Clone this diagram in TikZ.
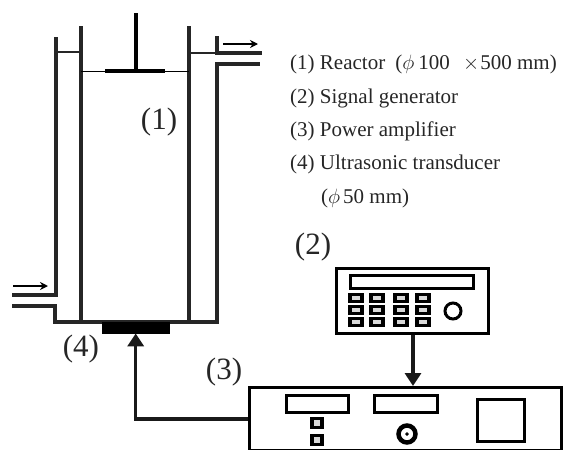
\documentclass[tikz,border=0pt]{standalone}
\usepackage{fontspec}
\setmainfont{Liberation Serif}
\usetikzlibrary{arrows.meta, positioning}

\begin{document}
\begin{tikzpicture}[
  x=1pt, y=-1pt,
  wall/.style = { line width=3.4pt, draw=black!85 },
  thinwall/.style = { line width=2pt, draw=black!85 },
  sig/.style = { line width=3.4pt, draw=black!90, -{Triangle[length=13pt, width=16pt]} },
  flow/.style = { line width=1.6pt, -{Stealth[length=8pt, width=8pt]} },
  box/.style = { draw=black, line width=2.6pt, inner sep=0pt, anchor=north west },
  key/.style = { draw=black, fill=black!15, line width=3.4pt, inner sep=0pt, minimum width=12pt, minimum height=7pt },
  tag/.style = { font=\fontsize{31}{31}\selectfont, inner sep=0pt, text=black!85 },
  legend/.style = { font=\fontsize{21}{21}\selectfont, inner sep=0pt, anchor=base west, text=black!85 }
]
\useasboundingbox (0,0) rectangle (563,450);

% reactor
\draw[wall] (56,37) -- (56,295) -- (12,295);
\draw[wall] (12,306) -- (55,306) -- (55,322) -- (217,322) -- (217,64) -- (260,64);
\draw[wall] (217,36) -- (217,53) -- (262,53);
\draw[wall] (81,26) -- (81,322);
\draw[wall] (189,26) -- (189,322);
\draw[thinwall] (56,52) -- (81,52);
\draw[thinwall] (189,52.5) -- (217,52.5);
\draw[line width=1pt] (81,71) -- (189,71);
\draw[line width=3.5pt] (105,71) -- (165,71);
\draw[line width=3.5pt] (136,13) -- (136,71);
\draw[flow] (223,44) -- (258,44);
\draw[flow] (13,286) -- (48,286);

% devices
\node[draw=black, fill=black, minimum width=67pt, minimum height=11pt, inner sep=0pt, anchor=north west] (trans) at (102,322) {};
\node[box, minimum width=152pt, minimum height=65pt] (gen) at (335,267) {};
\node[box, minimum width=312pt, minimum height=63pt] (amp) at (248,386) {};

\node[box, minimum width=123pt, minimum height=13pt] (gendisp) at (349,274) {};
\foreach \col/\xx in {a/356, b/377, c/401, d/423}
  \foreach \row/\yy in {1/298, 2/310, 3/322}
    \node[key] (key\col\row) at (\xx,\yy) {};
\node[draw=black, line width=3pt, circle, minimum size=16pt, inner sep=0pt] (genknob) at (453,311) {};

\node[box, minimum width=62pt, minimum height=17pt] (ampdispa) at (285,394) {};
\node[box, minimum width=63pt, minimum height=17pt] (ampdispb) at (373,394) {};
\node[box, minimum width=47pt, minimum height=42pt] (ampsquare) at (476,398) {};
\node[key, minimum width=10pt, minimum height=9pt] (ampkeya) at (317,423) {};
\node[key, minimum width=10pt, minimum height=9pt] (ampkeyb) at (317,440) {};
\node[draw=black, line width=4.5pt, circle, minimum size=17pt, inner sep=0pt] (ampknob) at (407,434) {};
\node[draw=black, fill=black, circle, minimum size=3pt, inner sep=0pt] (ampknobc) at (ampknob) {};

\draw[sig] (gen.south -| 413,0) -- (amp.north -| 413,0);
\draw[sig] (amp.west) -| (trans.south);

% labels
\node[tag] (tagreactor) at (159,122) {(1)};
\node[tag] (taggen) at (313,247) {(2)};
\node[tag] (tagamp) at (224,372) {(3)};
\node[tag] (tagtrans) at (81,349) {(4)};

\node[legend] (lega) at (290,69) {(1) Reactor\hspace{5pt} ($\phi$\hspace{4pt}100\hspace{8pt} $\times$\hspace{1pt}500 mm)};
\node[legend] (legb) at (290,103) {(2) Signal generator};
\node[legend] (legc) at (290,136) {(3) Power amplifier};
\node[legend] (legd) at (290,169) {(4) Ultrasonic transducer};
\node[legend] (lege) at (321,203) {($\phi$\hspace{3pt}50 mm)};

\end{tikzpicture}
\end{document}
